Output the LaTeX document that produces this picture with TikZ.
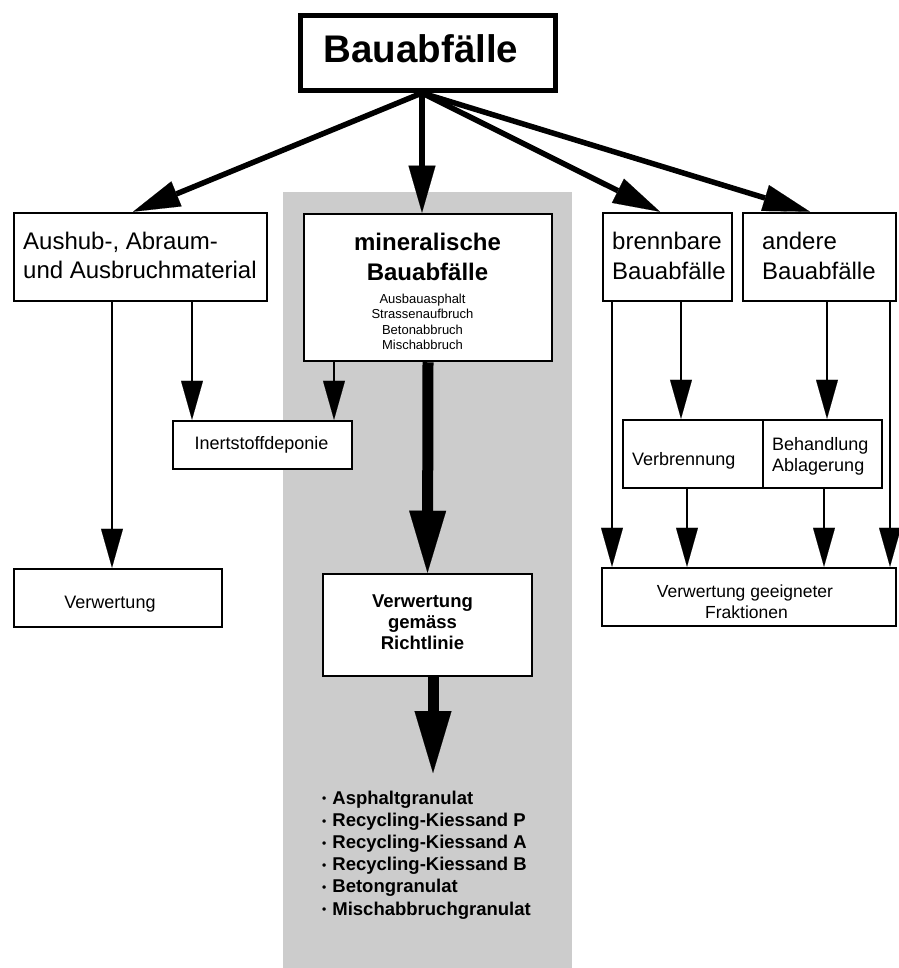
\documentclass[tikz,border=0pt]{standalone}
\usepackage{fontspec}
\setmainfont{Liberation Sans}
\usetikzlibrary{arrows.meta,calc}
\definecolor{bandgray}{RGB}{204,204,204}
\newcommand{\smallbul}{\raisebox{1.2pt}{\fontsize{12}{14}\selectfont•}\hspace{6pt}}
\begin{document}
\begin{tikzpicture}[x=1pt,y=-1pt,
  box/.style={draw, line width=2.5pt, fill=white, inner sep=0pt},
  txt/.style={inner sep=0pt, font=\fontsize{18}{21}\selectfont},
  bigtxt/.style={inner sep=0pt, font=\fontsize{24}{28}\selectfont},
  headtxt/.style={inner sep=0pt, font=\bfseries\fontsize{24}{28}\selectfont},
  smalltxt/.style={inner sep=0pt, font=\fontsize{13}{15}\selectfont},
  boldtxt/.style={inner sep=0pt, font=\bfseries\fontsize{18.5}{21}\selectfont},
  arr/.style={line width=2.5pt, -{Triangle[length=39pt,width=22pt,line width=0.1pt]}},
  bigarr/.style={line width=5.5pt, -{Triangle[length=47pt,width=27pt,line width=0.1pt]}},
  fatarr/.style={line width=11pt, -{Triangle[length=62pt,width=37pt,line width=0.1pt]}}]
\useasboundingbox (0,0) rectangle (898,968);
\fill[bandgray] (283,192) rectangle (572,968);

% boxes
\node[box, line width=5pt, minimum width=255pt, minimum height=75pt] (top) at (428,53) {};
\node[box, minimum width=253pt, minimum height=88pt] (aus) at (140.5,257) {};
\node[box, minimum width=248pt, minimum height=147pt] (min) at (428,287.5) {};
\node[box, minimum width=129pt, minimum height=88pt] (brenn) at (667.5,257) {};
\node[box, minimum width=153pt, minimum height=88pt] (andere) at (819.5,257) {};
\node[box, minimum width=179pt, minimum height=48pt] (inert) at (262.5,445) {};
\node[box, minimum width=208pt, minimum height=58pt] (verwL) at (118,598) {};
\node[box, minimum width=209pt, minimum height=102pt] (richt) at (427.5,625) {};
\node[box, minimum width=140pt, minimum height=68pt] (verbr) at (693,454) {};
\node[box, minimum width=119pt, minimum height=68pt] (behand) at (822.5,454) {};
\node[box, minimum width=294pt, minimum height=58pt] (verwG) at (749,597) {};

% texts
\node[anchor=base, inner sep=0pt, font=\bfseries\fontsize{38.5}{44}\selectfont] (ttop) at (421,63) {Bauabfälle};
\node[anchor=base west, bigtxt] (taus1) at (23,250) {Aushub-, Abraum-};
\node[anchor=base west, bigtxt] (taus2) at (23,278) {und Ausbruchmaterial};
\node[anchor=base, headtxt] (tmin1) at (427.5,251) {mineralische};
\node[anchor=base, headtxt] (tmin2) at (427.5,280) {Bauabfälle};
\node[anchor=base, smalltxt] (tmin3) at (422.5,303) {Ausbauasphalt};
\node[anchor=base, smalltxt] (tmin4) at (422.5,318.5) {Strassenaufbruch};
\node[anchor=base, smalltxt] (tmin5) at (422.5,334) {Betonabbruch};
\node[anchor=base, smalltxt] (tmin6) at (422.5,349.5) {Mischabbruch};
\node[anchor=base west, bigtxt] (tbr1) at (612,250) {brennbare};
\node[anchor=base west, bigtxt] (tbr2) at (612,279) {Bauabfälle};
\node[anchor=base west, bigtxt] (tan1) at (762,250) {andere};
\node[anchor=base west, bigtxt] (tan2) at (762,279) {Bauabfälle};
\node[anchor=base, txt] (tinert) at (261.5,449) {Inertstoffdeponie};
\node[anchor=base, txt] (tverwL) at (110,608) {Verwertung};
\node[anchor=base, boldtxt] (tri1) at (422.5,607) {Verwertung};
\node[anchor=base, boldtxt] (tri2) at (422.5,628) {gemäss};
\node[anchor=base, boldtxt] (tri3) at (422.5,649) {Richtlinie};
\node[anchor=base west, txt] (tverbr) at (632,465) {Verbrennung};
\node[anchor=base west, txt] (tbeh1) at (772,450) {Behandlung};
\node[anchor=base west, txt] (tbeh2) at (772,471) {Ablagerung};
\node[anchor=base, txt, font=\fontsize{17.5}{21}\selectfont] (tvg1) at (745,597) {Verwertung geeigneter};
\node[anchor=base, txt, font=\fontsize{17.5}{21}\selectfont] (tvg2) at (746.5,618) {Fraktionen};

\node[anchor=base west, boldtxt] (b1) at (322,804) {\smallbul Asphaltgranulat};
\node[anchor=base west, boldtxt] (b2) at (322,826.2) {\smallbul Recycling-Kiessand P};
\node[anchor=base west, boldtxt] (b3) at (322,848.4) {\smallbul Recycling-Kiessand A};
\node[anchor=base west, boldtxt] (b4) at (322,870.6) {\smallbul Recycling-Kiessand B};
\node[anchor=base west, boldtxt] (b5) at (322,892.8) {\smallbul Betongranulat};
\node[anchor=base west, boldtxt] (b6) at (322,915) {\smallbul Mischabbruchgranulat};
\coordinate (lt) at (433,773);

% arrows from the top box
\draw[bigarr] ([xshift=-6pt]top.south) -- ([xshift=-7.5pt]aus.north);
\draw[bigarr] ([xshift=-6pt]top.south) -- ([xshift=-6pt]min.north);
\draw[bigarr] ([xshift=-6pt]top.south) -- ([xshift=-7.5pt]brenn.north);
\draw[bigarr] ([xshift=-6pt]top.south) -- ([xshift=-9.5pt]andere.north);

% left column
\draw[arr] ([xshift=-28.5pt]aus.south) -- ([xshift=-28.5pt]aus.south |- verwL.north);
\draw[arr] ([xshift=51.5pt]aus.south) -- ([xshift=51.5pt]aus.south |- inert.north);
\draw[arr] ([xshift=-94pt]min.south) -- ([xshift=-94pt]min.south |- inert.north);

% mineral column
\draw[fatarr] (min.south) -- (richt.north);
\draw[fatarr] ([xshift=5.5pt]richt.south) -- (lt);

% right columns
\draw[arr] ([xshift=-55.5pt]brenn.south) -- ([xshift=-55.5pt]brenn.south |- verwG.north);
\draw[arr] ([xshift=13.5pt]brenn.south) -- ([xshift=13.5pt]brenn.south |- verbr.north);
\draw[arr] ([xshift=7.5pt]andere.south) -- ([xshift=7.5pt]andere.south |- behand.north);
\draw[arr] ([xshift=70.5pt]andere.south) -- ([xshift=70.5pt]andere.south |- verwG.north);
\draw[arr] ([xshift=-6pt]verbr.south) -- ([xshift=-6pt]verbr.south |- verwG.north);
\draw[arr] ([xshift=1.5pt]behand.south) -- ([xshift=1.5pt]behand.south |- verwG.north);
\end{tikzpicture}
\end{document}
